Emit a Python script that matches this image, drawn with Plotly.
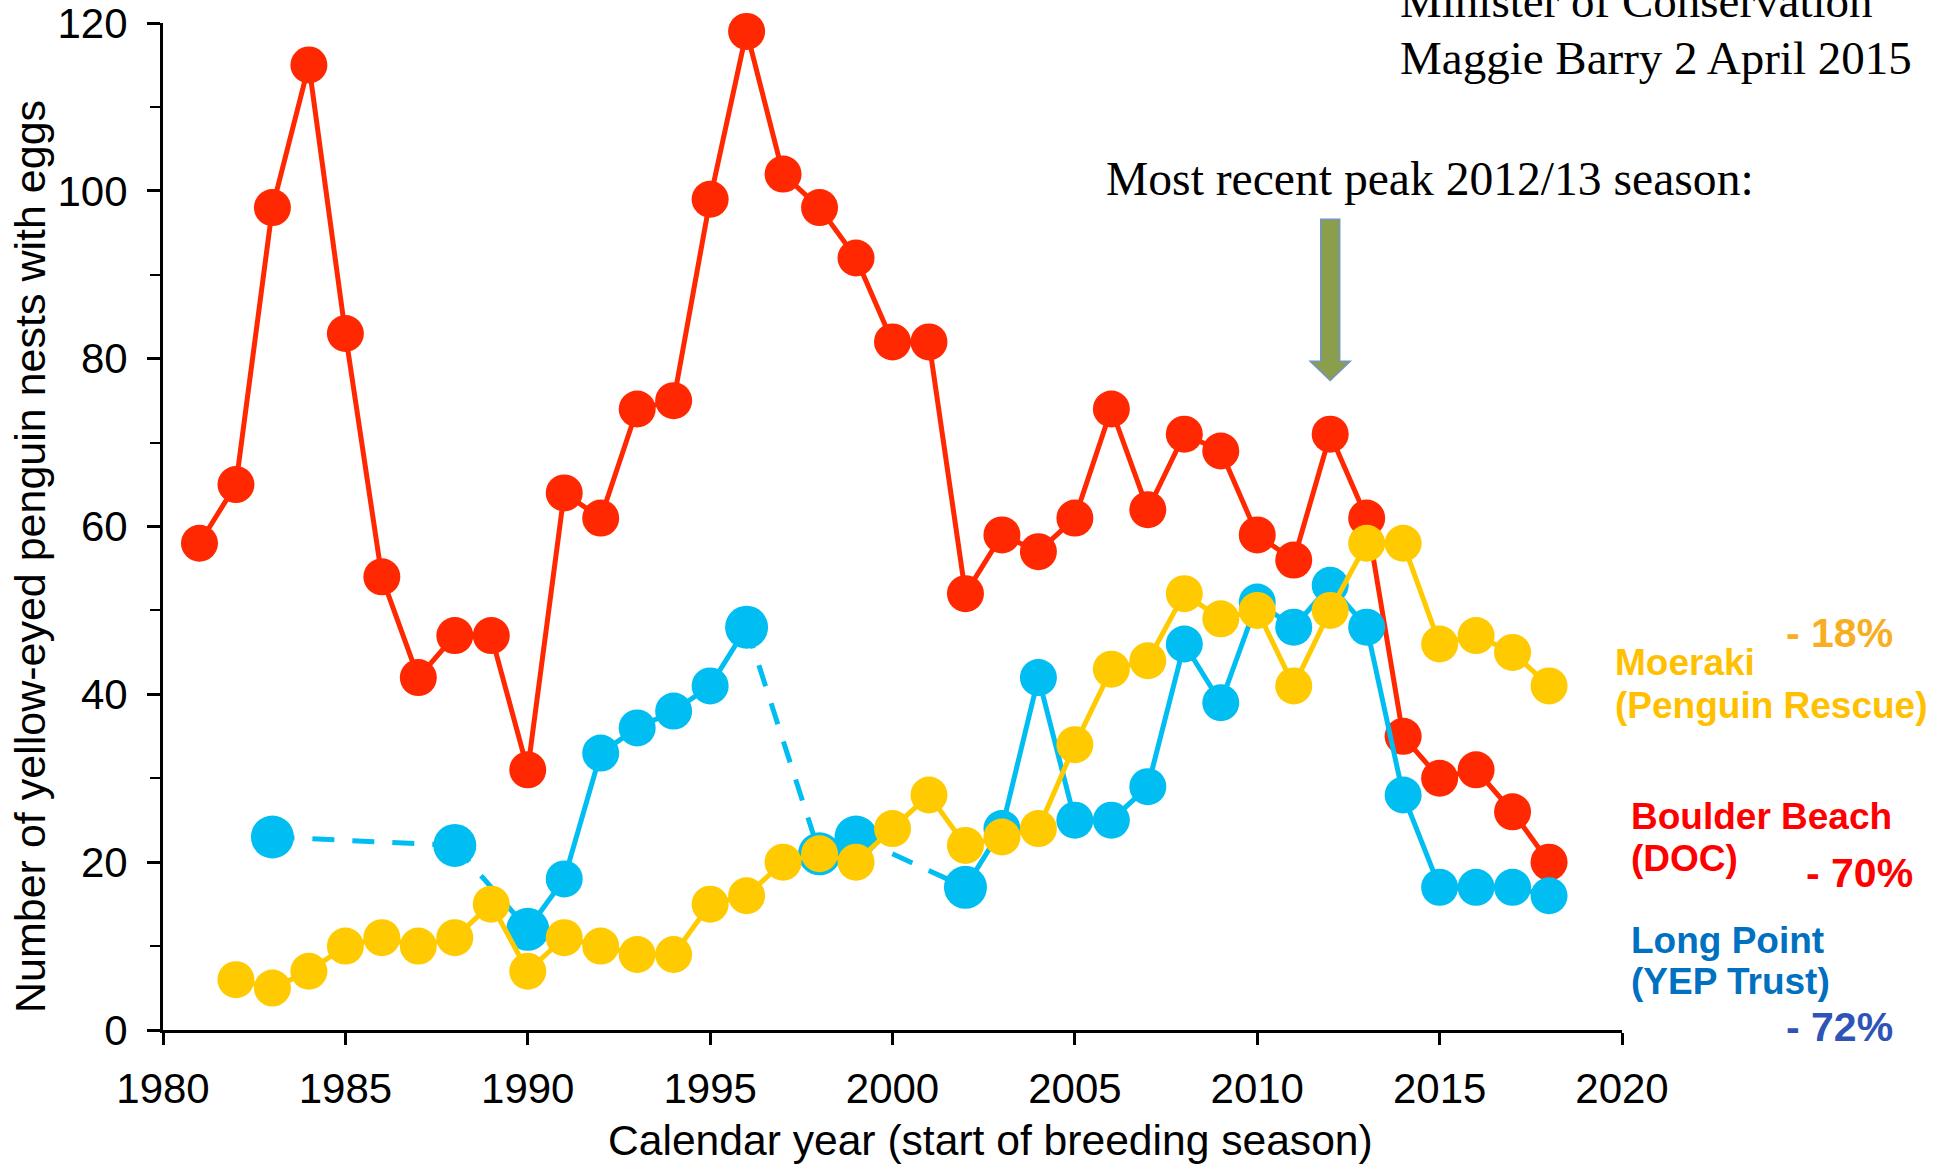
import plotly.graph_objects as go

# ---------------- data ----------------
boulder_years = list(range(1981, 2019))
boulder_nests = [58, 65, 98, 115, 83, 54, 42, 47, 47, 31, 64, 61, 74, 75, 99, 119, 102, 98, 92,
                 82, 82, 52, 59, 57, 61, 74, 62, 71, 69, 59, 56, 71, 61, 35, 30, 31, 26, 20]

moeraki_years = list(range(1982, 2019))
moeraki_nests = [6, 5, 7, 10, 11, 10, 11, 15, 7, 11, 10, 9, 9, 15, 16, 20, 21, 20, 24, 28,
                 22, 23, 24, 34, 43, 44, 52, 49, 50, 41, 50, 58, 58, 46, 47, 45, 41]

longpoint_years = [1983, 1988, 1990, 1991, 1992, 1993, 1994, 1995, 1996, 1998, 1999,
                   2002, 2003, 2004, 2005, 2006, 2007, 2008, 2009, 2010, 2011, 2012, 2013,
                   2014, 2015, 2016, 2017, 2018]
longpoint_nests = [23, 22, 12, 18, 33, 36, 38, 41, 48, 21, 23,
                   17, 24, 42, 25, 25, 29, 46, 39, 51, 48, 53, 48,
                   28, 17, 17, 17, 16]

x_ticks = [1980, 1985, 1990, 1995, 2000, 2005, 2010, 2015, 2020]
y_ticks = [0, 20, 40, 60, 80, 100, 120]

peak_year = 2012

RED = "#FF2800"
BLUE = "#00BEF2"
YELLOW = "#FFCA00"

W, H = 1947, 1166
ML, MR, MT, MB = 163, 325, 23, 136
PW, PH = W - ML - MR, H - MT - MB


def px(xp):
    return (xp - ML) / PW


def py(yp):
    return 1 - (yp - MT) / PH


fig = go.Figure()

# Boulder Beach (red)
fig.add_trace(go.Scatter(x=boulder_years, y=boulder_nests, mode="lines+markers",
                         line=dict(color=RED, width=5),
                         marker=dict(color=RED, size=37, opacity=1, line=dict(width=0)),
                         cliponaxis=False, showlegend=False))

# Long Point (blue): solid where consecutive years, dashed across gaps
solid_x, solid_y, dash_x, dash_y, sizes = [], [], [], [], []
for i, (yr, v) in enumerate(zip(longpoint_years, longpoint_nests)):
    if i > 0:
        prev_yr, prev_v = longpoint_years[i - 1], longpoint_nests[i - 1]
        if yr - prev_yr > 1:
            solid_x.append(None)
            solid_y.append(None)
            dash_x += [prev_yr, yr, None]
            dash_y += [prev_v, v, None]
    solid_x.append(yr)
    solid_y.append(v)
    gap_before = i > 0 and yr - longpoint_years[i - 1] > 1
    gap_after = i < len(longpoint_years) - 1 and longpoint_years[i + 1] - yr > 1
    sizes.append(43 if (gap_before or gap_after) else 37)

fig.add_trace(go.Scatter(x=dash_x, y=dash_y, mode="lines",
                         line=dict(color=BLUE, width=5, dash="22px,18px"),
                         cliponaxis=False, showlegend=False))
fig.add_trace(go.Scatter(x=solid_x, y=solid_y, mode="lines",
                         line=dict(color=BLUE, width=5),
                         cliponaxis=False, showlegend=False))
fig.add_trace(go.Scatter(x=longpoint_years, y=longpoint_nests, mode="markers",
                         marker=dict(color=BLUE, size=sizes, opacity=1, line=dict(width=0)),
                         cliponaxis=False, showlegend=False))

# Moeraki (yellow)
fig.add_trace(go.Scatter(x=moeraki_years, y=moeraki_nests, mode="lines+markers",
                         line=dict(color=YELLOW, width=5),
                         marker=dict(color=YELLOW, size=37, opacity=1, line=dict(width=0)),
                         cliponaxis=False, showlegend=False))

# Arrow pointing at peak season
sw, hw = 0.26, 0.55
ytop, ybase, ytip = 96.6, 79.7, 77.4
arrow_path = (f"M {peak_year - sw},{ytop} L {peak_year + sw},{ytop} L {peak_year + sw},{ybase} "
              f"L {peak_year + hw},{ybase} L {peak_year},{ytip} L {peak_year - hw},{ybase} "
              f"L {peak_year - sw},{ybase} Z")
fig.add_shape(type="path", path=arrow_path, xref="x", yref="y",
              fillcolor="#8A9E4C", line=dict(color="#6F94CB", width=1.5))

SANS = "Liberation Sans, Arial, sans-serif"
SERIF = "Liberation Serif, Times New Roman, serif"

ann = []
# Serif texts
ann.append(dict(text="Minister of Conservation", x=px(1398), y=py(1), xanchor="left", yanchor="middle",
                font=dict(family=SERIF, size=47, color="black")))
ann.append(dict(text="Maggie Barry 2 April 2015", x=px(1398), y=py(58), xanchor="left", yanchor="middle",
                font=dict(family=SERIF, size=47, color="black")))
ann.append(dict(text="Most recent peak 2012/13 season:", x=px(1104), y=py(179), xanchor="left",
                yanchor="middle", font=dict(family=SERIF, size=47.6, color="black")))

# Axis titles
ann.append(dict(text="Number of yellow-eyed penguin nests with eggs", x=px(30), y=py(557),
                xanchor="center", yanchor="middle", textangle=-90,
                font=dict(family=SANS, size=43, color="black")))
ann.append(dict(text="Calendar year (start of breeding season)", x=px(990), y=py(1140),
                xanchor="center", yanchor="middle",
                font=dict(family=SANS, size=42.6, color="black")))

# Site labels
def lab(text, xl, yc, color, size=37):
    ann.append(dict(text=f"<b>{text}</b>", x=px(xl), y=py(yc), xanchor="left", yanchor="middle",
                    font=dict(family=SANS, size=size, color=color)))


lab("- 18%", 1784, 633, "#F8AE22", 41)
lab("Moeraki", 1613, 662, "#FFC000")
lab("(Penguin Rescue)", 1613, 705, "#FFC000")
lab("Boulder Beach", 1629, 816, "#FF0000")
lab("(DOC)", 1629, 858, "#FF0000")
lab("- 70%", 1804, 873, "#FF0000", 41)
lab("Long Point", 1629, 940, "#0070C0")
lab("(YEP Trust)", 1629, 981, "#0070C0")
lab("- 72%", 1784, 1027, "#2F54B8", 41)

for a in ann:
    a.update(xref="paper", yref="paper", showarrow=False)

fig.update_layout(
    width=W, height=H,
    margin=dict(l=ML, r=MR, t=MT, b=MB, pad=0, autoexpand=False),
    paper_bgcolor="white", plot_bgcolor="white",
    annotations=ann,
    xaxis=dict(range=[1980, 2020], tickvals=x_ticks, ticktext=[str(v) for v in x_ticks],
               automargin=False, ticklabeloverflow="allow",
               showgrid=False, zeroline=False, showline=True, linecolor="black", linewidth=3,
               ticks="outside", ticklen=12, tickwidth=2.5, tickcolor="black",
               tickfont=dict(family=SANS, size=42, color="black"), ticklabelstandoff=8),
    yaxis=dict(range=[0, 120], tickvals=y_ticks, ticktext=[str(v) for v in y_ticks],
               automargin=False, ticklabeloverflow="allow",
               showgrid=False, zeroline=False, showline=True, linecolor="black", linewidth=3,
               ticks="outside", ticklen=13, tickwidth=2.5, tickcolor="black",
               minor=dict(dtick=10, tick0=0, ticks="outside", ticklen=10, tickwidth=2, tickcolor="black"),
               tickfont=dict(family=SANS, size=42, color="black"), ticklabelstandoff=11),
    showlegend=False,
)

fig.write_html("out.html", config={"displayModeBar": False},
               post_script="document.body.style.margin='0';document.body.style.overflow='hidden';")
